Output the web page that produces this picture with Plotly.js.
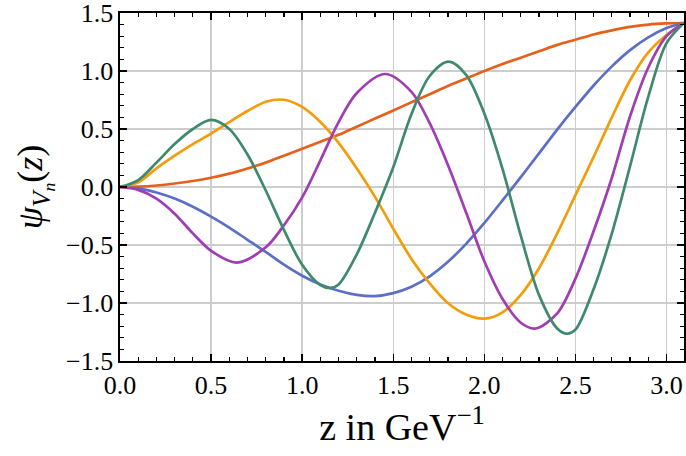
<!DOCTYPE html>
<html><head><meta charset="utf-8">
<script src="https://cdn.plot.ly/plotly-3.0.1.min.js"></script>
<style>html,body{margin:0;padding:0;background:#fff}</style>
</head><body><div id="plot" style="width:686px;height:456px"></div>
<script>
// z in GeV^-1
const zGrid = [0,0.1,0.2,0.3,0.4,0.5,0.6,0.7,0.8,0.9,1.0,1.1,1.2,1.3,1.4,1.5,1.6,1.7,1.8,1.9,2.0,2.1,2.2,2.3,2.4,2.5,2.6,2.7,2.8,2.9,3.0,3.096];
const psi0 = [0,0.003,0.013,0.03,0.052,0.08,0.115,0.16,0.21,0.27,0.33,0.39,0.45,0.52,0.59,0.66,0.73,0.80,0.87,0.935,1.0,1.06,1.115,1.17,1.225,1.27,1.315,1.35,1.38,1.40,1.41,1.414];
const psi1 = [0,-0.012,-0.048,-0.10,-0.17,-0.255,-0.35,-0.455,-0.56,-0.67,-0.765,-0.84,-0.895,-0.93,-0.94,-0.915,-0.86,-0.77,-0.645,-0.49,-0.31,-0.115,0.085,0.29,0.495,0.69,0.875,1.04,1.18,1.29,1.37,1.414];
const psi2 = [0,0.04,0.16,0.27,0.37,0.46,0.56,0.655,0.735,0.752,0.69,0.56,0.38,0.16,-0.085,-0.36,-0.62,-0.83,-1.0,-1.10,-1.135,-1.08,-0.93,-0.70,-0.40,-0.07,0.26,0.60,0.92,1.16,1.31,1.414];
const z3 = [0,0.1,0.2,0.3,0.4,0.5,0.64,0.8,0.9,1.0,1.1,1.2,1.3,1.456,1.6,1.7,1.8,1.9,2.0,2.1,2.2,2.28,2.4,2.5,2.6,2.7,2.8,2.9,3.0,3.096];
const psi3 = [0,-0.025,-0.10,-0.23,-0.40,-0.55,-0.652,-0.52,-0.33,-0.09,0.23,0.56,0.81,0.974,0.82,0.55,0.19,-0.22,-0.64,-0.965,-1.17,-1.22,-1.09,-0.79,-0.38,0.08,0.61,1.03,1.30,1.414];
const z4 = [0,0.1,0.2,0.3,0.4,0.5,0.6,0.7,0.8,0.9,1.0,1.1,1.154,1.2,1.3,1.4,1.5,1.6,1.7,1.804,1.9,2.0,2.1,2.2,2.3,2.4,2.454,2.5,2.6,2.7,2.8,2.9,3.0,3.096];
const psi4 = [0,0.06,0.21,0.37,0.50,0.578,0.50,0.28,-0.03,-0.37,-0.67,-0.845,-0.87,-0.84,-0.58,-0.22,0.17,0.63,0.957,1.08,0.967,0.633,0.155,-0.42,-0.93,-1.22,-1.265,-1.23,-0.88,-0.40,0.18,0.78,1.24,1.414];

const colors = ['#E5611B','#5C6FC6','#F39C0C','#A03DB3','#3F8A6D'];
const series = [[zGrid,psi0],[zGrid,psi1],[zGrid,psi2],[z3,psi3],[z4,psi4]];
const traces = series.map((s,i)=>({
  x:s[0], y:s[1], type:'scatter', mode:'lines',
  line:{color:colors[i], width:2.7, shape:'spline', smoothing:0.9},
  hoverinfo:'skip'
}));

const serif = 'Liberation Serif';
const tickFont = {family:serif, size:26, color:'#000'};
const minorTicks = {ticks:'inside', ticklen:4, tickwidth:1.2, tickcolor:'#000', showgrid:false, dtick:0.1};

function makeAxis(extra){
  return Object.assign({
    showgrid:true, gridcolor:'#cdcdcd', gridwidth:1.5,
    zeroline:false, showline:true, linecolor:'#000', linewidth:1.6,
    mirror:'allticks', ticks:'inside', ticklen:7, tickwidth:1.5, tickcolor:'#000',
    tickfont:tickFont, tickformat:'.1f', tick0:0, dtick:0.5,
    ticklabeloverflow:'allow',
    minor:minorTicks
  }, extra);
}

const layout = {
  width:686, height:456,
  font:{family:serif, size:26, color:'#000'},
  margin:{l:120, r:2, t:13, b:95},
  paper_bgcolor:'#fff', plot_bgcolor:'#fff',
  showlegend:false,
  xaxis:makeAxis({
    range:[0,3.096],
    title:{text:'z in GeV<sup>\u22121</sup>', font:{family:serif, size:38, color:'#000'}, standoff:10}
  }),
  yaxis:makeAxis({
    range:[-1.5,1.5],
    title:{text:'<i>\u03c8</i><sub><i>V</i><sub><i>n</i></sub></sub>(<i>z</i>)', font:{family:serif, size:36, color:'#000'}, standoff:12}
  })
};

Plotly.newPlot('plot', traces, layout, {staticPlot:true, displayModeBar:false});
</script>
</body></html>
